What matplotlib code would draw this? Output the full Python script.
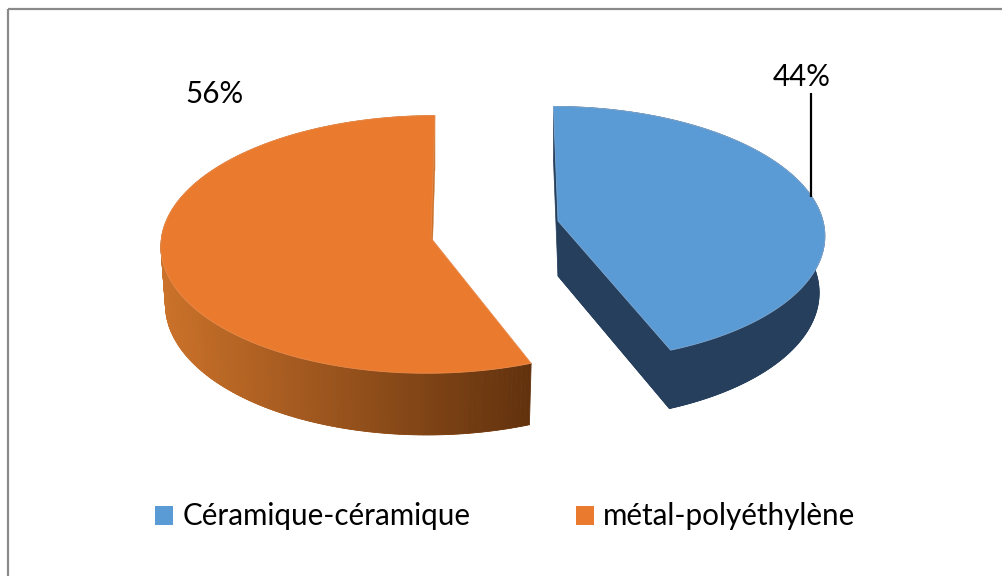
import numpy as np
import matplotlib
matplotlib.use("Agg")
import matplotlib.pyplot as plt
from matplotlib.patches import Polygon, Patch, Rectangle

categories = ["Céramique-céramique", "métal-polyéthylène"]
values = [44, 56]
labels = ["44%", "56%"]

TOP_BLUE = "#5B9BD5"
SIDE_BLUE = "#253F5D"
TOP_ORANGE = "#EA7B2E"
SIDE_ORANGE_L = np.array([203, 114, 42]) / 255
SIDE_ORANGE_R = np.array([98, 50, 14]) / 255

plt.rcParams["font.family"] = ["Lato", "DejaVu Sans"]
FS = 21.3

fig = plt.figure(figsize=(10.02, 5.76), dpi=100, facecolor="white")
ax = fig.add_axes([0, 0, 1, 1])
ax.set_xlim(0, 1002)
ax.set_ylim(576, 0)
ax.axis("off")

ax.add_patch(Rectangle((8.5, 8.5), 1200, 800, fill=False, ec="#8A8A8A", lw=1.6))


def project(theta_deg, cx, cy, rx, ry, k, sx):
    t = np.radians(theta_deg)
    u, v = np.sin(t), np.cos(t)
    s = 1 + k * v
    return np.column_stack([cx + (rx * u + sx * v) / s, cy - ry * v / s])


total = sum(values)
split = 360 * values[0] / total
th_blue = np.linspace(0, split, 160)
th_orange = np.linspace(split, 360, 200)

# Blue slice
blue_top = (558, 221, 265, 126, 0.10, -5)
blue_bot = (558, 276, 259, 128, 0.11, -5)
rim_t = project(th_blue, *blue_top)
rim_b = project(th_blue, *blue_bot)
ax.add_patch(Polygon(np.vstack([[blue_bot[:2]], rim_b]), fc=SIDE_BLUE, ec=SIDE_BLUE, lw=0.5))
ax.add_patch(Polygon(np.vstack([rim_t, rim_b[::-1]]), fc=SIDE_BLUE, ec=SIDE_BLUE, lw=0.5))
ax.add_patch(Polygon([blue_top[:2], blue_bot[:2], rim_b[-1], rim_t[-1]], fc=SIDE_BLUE, ec=SIDE_BLUE, lw=0.5))
ax.add_patch(Polygon(np.vstack([[blue_top[:2]], rim_t]), fc=TOP_BLUE, ec="#7FA9D2", lw=0.6))

# Orange slice
or_top = (431, 238, 269.5, 128.5, 0.05, 4)
or_bot = (431, 296, 265, 132, 0.05, 4)
rim_t = project(th_orange, *or_top)
rim_b = project(th_orange, *or_bot)
ax.add_patch(Polygon(np.vstack([[or_bot[:2]], rim_b]), fc=SIDE_ORANGE_L, ec=SIDE_ORANGE_L, lw=0.3))
x0, x1 = rim_b[:, 0].min(), rim_b[:, 0].max()
for i in range(len(th_orange) - 1):
    f = (rim_b[i, 0] - x0) / (x1 - x0) if th_orange[i] < 270 else 0.0
    c = SIDE_ORANGE_L + (SIDE_ORANGE_R - SIDE_ORANGE_L) * f
    ax.add_patch(Polygon([rim_t[i], rim_t[i + 1], rim_b[i + 1], rim_b[i]], fc=c, ec=c, lw=0.6))
ax.add_patch(Polygon(np.vstack([[or_top[:2]], rim_t]), fc=TOP_ORANGE, ec="#E98A4C", lw=0.6))

# Data labels and leader line
ax.plot([811, 811], [93, 197], color="black", lw=1.6, solid_capstyle="butt")
ax.text(801.5, 76.5, labels[0], fontsize=FS, ha="center", va="center", color="black")
ax.text(214.5, 94, labels[1], fontsize=FS, ha="center", va="center", color="black")

# Legend
handles = [Patch(fc=TOP_BLUE, ec="none"), Patch(fc=TOP_ORANGE, ec="none")]
ax.legend(handles, categories, loc="center left", bbox_to_anchor=(155, 516.5),
          bbox_transform=ax.transData, ncol=2, frameon=False, fontsize=FS,
          handlelength=0.62, handleheight=0.62, handletextpad=0.3,
          columnspacing=3.57, borderpad=0, borderaxespad=0, labelcolor="black")

fig.savefig("out.png", dpi=100)
